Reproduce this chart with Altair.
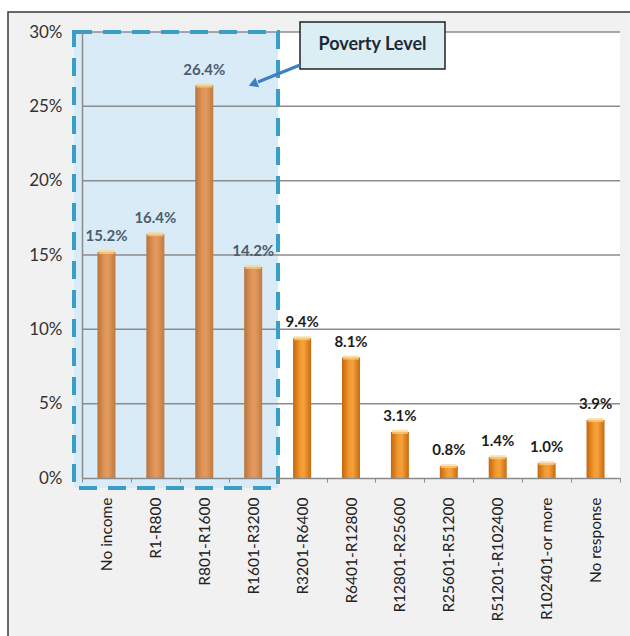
import altair as alt
import pandas as pd

categories = ["No income", "R1-R800", "R801-R1600", "R1601-R3200", "R3201-R6400",
              "R6401-R12800", "R12801-R25600", "R25601-R51200", "R51201-R102400",
              "R102401-or more", "No response"]
values = [15.2, 16.4, 26.4, 14.2, 9.4, 8.1, 3.1, 0.8, 1.4, 1.0, 3.9]
poverty_categories = categories[:4]
y_ticks = [0, 5, 10, 15, 20, 25, 30]
grid_values = [5, 10, 15, 20, 25, 30]
annotation_text = "Poverty Level"

W, H = 538, 446
FONT = "Lato"

df = pd.DataFrame({
    "category": categories,
    "value": values,
    "label": [f"{v:.1f}%" for v in values],
    "poverty": [c in poverty_categories for c in categories],
})

x_enc = alt.X("category:N", sort=categories, scale=alt.Scale(paddingInner=0, paddingOuter=0),
              axis=alt.Axis(title=None, labelAngle=-90, labelFont=FONT, labelFontSize=15.5,
                            labelColor="#222222", domainColor="#8a8a8a", domainWidth=1.5,
                            tickBand="extent", tickSize=4, tickColor="#8a8a8a",
                            labelPadding=15, zindex=1))
y_enc = alt.Y("value:Q", scale=alt.Scale(domain=[0, 30], nice=False),
              axis=alt.Axis(title=None, values=y_ticks, grid=False, ticks=False,
                            labelExpr="datum.value + '%'", labelFont=FONT, labelFontSize=17,
                            labelColor="#333333", labelPadding=20, domainColor="#8a8a8a",
                            domainWidth=1.5, zindex=1))

one = alt.Data(values=[{"a": 1}])

frame = alt.Chart(one).mark_rect(fill="#f1f1f1", stroke="#3a3a3a", strokeWidth=1.5).encode(
    x=alt.value(-74), x2=alt.value(W + 30), y=alt.value(-20), y2=alt.value(H + 190))

plot_bg = alt.Chart(one).mark_rect(fill="#ffffff").encode(
    x=alt.value(0), x2=alt.value(W), y=alt.value(0), y2=alt.value(H))

region_fill = alt.Chart(one).mark_rect(fill="#d9ebf7").encode(
    x=alt.value(-8), x2=alt.value(196), y=alt.value(0), y2=alt.value(H + 10))

grid = alt.Chart(pd.DataFrame({"g": grid_values})).mark_rule(
    color="#8c8c8c", strokeWidth=1.5).encode(
    y=alt.Y("g:Q", scale=alt.Scale(domain=[0, 30], nice=False)),
    x=alt.value(0), x2=alt.value(W))

grad_out = alt.Gradient(gradient="linear", x1=0, x2=1, y1=0, y2=0, stops=[
    alt.GradientStop(color="#c4650c", offset=0),
    alt.GradientStop(color="#f39a30", offset=0.4),
    alt.GradientStop(color="#f5a23c", offset=0.6),
    alt.GradientStop(color="#c96a10", offset=1)])
grad_in = alt.Gradient(gradient="linear", x1=0, x2=1, y1=0, y2=0, stops=[
    alt.GradientStop(color="#b8733a", offset=0),
    alt.GradientStop(color="#e2955a", offset=0.4),
    alt.GradientStop(color="#e39a5e", offset=0.6),
    alt.GradientStop(color="#bf7a40", offset=1)])

base = alt.Chart(df)

bars_out = base.transform_filter("!datum.poverty").mark_bar(size=18, fill=grad_out).encode(
    x=x_enc, y=y_enc)
bars_in = base.transform_filter("datum.poverty").mark_bar(size=18, fill=grad_in).encode(
    x=x_enc, y=y_enc)

caps = base.mark_tick(orient="horizontal", size=16, thickness=4, color="#f7d58a").encode(
    x=x_enc, y=y_enc)

labels_in = base.transform_filter("datum.poverty").mark_text(
    font=FONT, fontSize=15, fontWeight="bold", color="#4c5d6e", baseline="bottom", dy=-8
).encode(x=x_enc, y=y_enc, text="label:N")
labels_out = base.transform_filter("!datum.poverty").mark_text(
    font=FONT, fontSize=15, fontWeight="bold", color="#1c1c1c", baseline="bottom", dy=-8
).encode(x=x_enc, y=y_enc, text="label:N")

region_border = alt.Chart(one).mark_rect(
    fill=None, fillOpacity=0, stroke="#3a9fc6", strokeWidth=4, strokeDash=[18, 11]).encode(
    x=alt.value(-8), x2=alt.value(196), y=alt.value(0), y2=alt.value(H + 10))

box = alt.Chart(one).mark_rect(fill="#dbeef4", stroke="#222222", strokeWidth=1.5).encode(
    x=alt.value(218), x2=alt.value(363), y=alt.value(-10), y2=alt.value(37))
box_text = alt.Chart(one).mark_text(
    text=annotation_text, font=FONT, fontSize=18, fontWeight="bold", color="#1f2a36",
    align="center", baseline="middle").encode(x=alt.value(290.5), y=alt.value(13))

arrow_line = alt.Chart(one).mark_rule(color="#3d7fc1", strokeWidth=3).encode(
    x=alt.value(218), y=alt.value(33), x2=alt.value(176), y2=alt.value(50))
arrow_head = alt.Chart(one).mark_point(
    shape="triangle-right", filled=True, color="#3d7fc1", size=110, angle=158, opacity=1
).encode(x=alt.value(171), y=alt.value(52))

chart = alt.layer(
    frame, plot_bg, region_fill, grid, bars_in, bars_out, caps, labels_in, labels_out,
    region_border, box, box_text, arrow_line, arrow_head
).properties(
    width=W, height=H,
    autosize=alt.AutoSizeParams(type="none"),
    padding={"left": 82, "top": 32, "right": 10, "bottom": 158},
    background="#ffffff",
).configure_view(stroke=None)

chart.save("out.html", embed_options={"renderer": "svg", "actions": False})
